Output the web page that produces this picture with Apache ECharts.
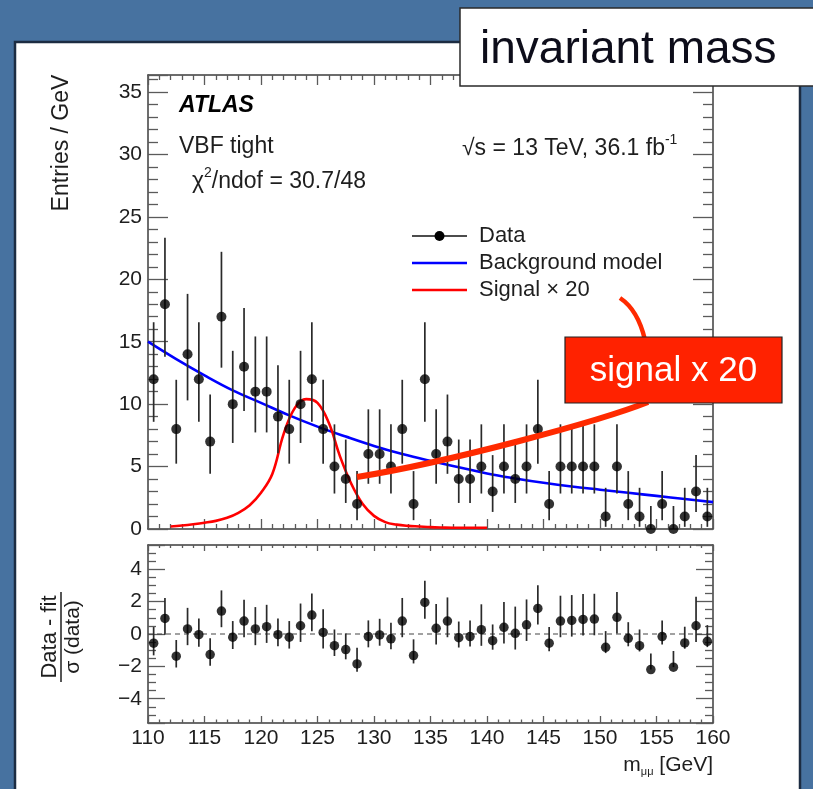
<!DOCTYPE html>
<html><head><meta charset="utf-8">
<script src="https://cdn.jsdelivr.net/npm/echarts@6/dist/echarts.min.js"></script>
<style>html,body{margin:0;padding:0;background:#4772a0;} #c{width:813px;height:789px;}</style>
</head><body><div id="c"></div>
<script>
// ---------- data ----------
const binCenters = [110.5,111.5,112.5,113.5,114.5,115.5,116.5,117.5,118.5,119.5,
  120.5,121.5,122.5,123.5,124.5,125.5,126.5,127.5,128.5,129.5,
  130.5,131.5,132.5,133.5,134.5,135.5,136.5,137.5,138.5,139.5,
  140.5,141.5,142.5,143.5,144.5,145.5,146.5,147.5,148.5,149.5,
  150.5,151.5,152.5,153.5,154.5,155.5,156.5,157.5,158.5,159.5];
const counts = [12,18,8,14,12,7,17,10,13,11,
  11,9,8,10,12,8,5,4,2,6,
  6,5,8,2,12,6,7,4,4,5,
  3,5,4,5,8,2,5,5,5,5,
  1,5,2,1,0,2,0,1,3,1];
const residuals = [-0.57,0.96,-1.37,0.31,-0.04,-1.27,1.42,-0.2,0.8,0.31,
  0.45,-0.04,-0.2,0.51,1.17,0.1,-0.72,-0.96,-1.85,-0.16,
  -0.06,-0.3,0.8,-1.33,1.95,0.35,0.8,-0.23,-0.16,0.27,
  -0.41,0.41,0.04,0.57,1.58,-0.57,0.8,0.84,0.9,0.92,
  -0.82,1.03,-0.27,-0.72,-2.2,-0.16,-2.05,-0.55,0.51,-0.45];
const bgMass = [110,112.5,115,117.5,120,122.5,125,127.5,130,132.5,135,137.5,140,142.5,145,147.5,150,152.5,155,157.5,160];
const bgValues = [15.0,13.6,12.3,11.1,10.1,9.1,8.2,7.4,6.65,6.0,5.45,4.95,4.45,4.05,3.7,3.4,3.15,2.9,2.65,2.4,2.15];
const sigMass = [112,113,114,115,116,117,118,119,120,121,122,123,124,125,126,127,128,129,130,131,132,133,134,135,136,137,138,139,140];
const sigValues = [0.2,0.28,0.38,0.5,0.65,0.9,1.3,1.9,2.9,4.4,7.6,9.7,10.4,10.1,8.5,5.8,3.6,2.0,1.05,0.55,0.35,0.25,0.2,0.15,0.12,0.1,0.1,0.1,0.1];
// 68% Poisson (Garwood) interval bounds for n = 0..18
const poissonLo = [0,0.173,0.708,1.367,2.086,2.840,3.620,4.419,5.232,6.057,6.891,7.734,8.585,9.441,10.30,11.17,12.04,12.92,13.80];
const poissonHi = [1.841,3.300,4.638,5.918,7.163,8.382,9.584,10.77,11.95,13.11,14.27,15.42,16.56,17.70,18.83,19.96,21.08,22.20,23.32];

// ---------- styling ----------
const FONT = '"Liberation Sans", Arial, Helvetica, sans-serif';
const frameColor = '#3c3c3c';
const tickColor = '#5a5a5a';
const txt = '#1e1e1e';
const minus = v => (v < 0 ? '\u2212' + Math.abs(v) : String(v));

const dataPts = binCenters.map((m, i) => [m, counts[i]]);
const dataErr = binCenters.map((m, i) => [m, poissonLo[counts[i]], poissonHi[counts[i]]]);
const resPts = binCenters.map((m, i) => [m, residuals[i]]);
const resErr = binCenters.map((m, i) => {
  const n = counts[i], lo = n - poissonLo[n], hi = poissonHi[n] - n, r = residuals[i];
  let up, dn;
  if (r < 0) { up = 1; dn = lo / hi; } else { dn = 1; up = hi / (lo || hi); }
  return [m, r - dn, r + up];
});

function xAx(grid, pos, label, maj, mnr) {
  return {
    type: 'value', gridIndex: grid, position: pos, min: 110, max: 160, interval: 5,
    axisLine: {show: true, onZero: false, lineStyle: {color: frameColor, width: 1.5}},
    axisTick: {show: true, inside: true, length: maj, lineStyle: {color: tickColor, width: 1.3}},
    minorTick: {show: true, splitNumber: 5, length: mnr, lineStyle: {color: tickColor, width: 1.3}},
    axisLabel: {show: label, margin: 5, fontSize: 21, fontFamily: FONT, color: txt},
    splitLine: {show: false}, minorSplitLine: {show: false}
  };
}
function yAx(grid, pos, label, cfg) {
  return Object.assign({
    type: 'value', gridIndex: grid, position: pos,
    axisLine: {show: true, onZero: false, lineStyle: {color: frameColor, width: 1.5}},
    splitLine: {show: false}, minorSplitLine: {show: false}
  }, cfg, {
    axisLabel: {show: label, margin: 6, fontSize: 21, fontFamily: FONT, color: txt,
      formatter: cfg.fmt}
  });
}
const mainY = {min: 0, max: 36.36, interval: 5,
  axisTick: {show: true, inside: true, length: 20, lineStyle: {color: tickColor, width: 1.3}},
  minorTick: {show: true, splitNumber: 5, length: 10, lineStyle: {color: tickColor, width: 1.3}},
  fmt: v => (Math.abs(v % 5) < 1e-6 ? String(v) : '')};
const lowY = {min: -5.5, max: 5.5, splitNumber: 5,
  axisTick: {show: true, inside: true, length: 17, lineStyle: {color: tickColor, width: 1.3}},
  minorTick: {show: true, splitNumber: 4, length: 8, lineStyle: {color: tickColor, width: 1.3}},
  fmt: v => (Math.abs(v % 2) < 1e-6 && Math.abs(v) <= 4 ? minus(v) : '')};

function errBars(color) {
  return function (params, api) {
    const p1 = api.coord([api.value(0), api.value(1)]);
    const p2 = api.coord([api.value(0), api.value(2)]);
    return {type: 'line', shape: {x1: p1[0], y1: p1[1], x2: p2[0], y2: p2[1]},
      style: {stroke: color, lineWidth: 1.7}};
  };
}

const option = {
  animation: false,
  backgroundColor: '#4772a0',
  grid: [
    {left: 148, top: 75, right: 100, height: 454},
    {left: 148, top: 545, right: 100, height: 178}
  ],
  xAxis: [xAx(0, 'bottom', false, 10, 5), xAx(0, 'top', false, 10, 5),
          xAx(1, 'bottom', true, 7, 3.5), xAx(1, 'top', false, 6, 3)],
  yAxis: [yAx(0, 'left', true, mainY), yAx(0, 'right', false, mainY),
          yAx(1, 'left', true, lowY), yAx(1, 'right', false, lowY)],
  series: [
    {type: 'line', name: 'Background model', xAxisIndex: 0, yAxisIndex: 0,
      data: bgMass.map((m, i) => [m, bgValues[i]]), smooth: 0.4, showSymbol: false,
      lineStyle: {color: '#0000ff', width: 2.6}, z: 3},
    {type: 'line', name: 'Signal x 20', xAxisIndex: 0, yAxisIndex: 0,
      data: sigMass.map((m, i) => [m, sigValues[i]]), smooth: 0.4, showSymbol: false,
      lineStyle: {color: '#ff0000', width: 2.6}, z: 3},
    {type: 'custom', name: 'Data err', xAxisIndex: 0, yAxisIndex: 0, data: dataErr,
      renderItem: errBars('#2a2a2a'), clip: false, z: 4},
    {type: 'scatter', name: 'Data', xAxisIndex: 0, yAxisIndex: 0, data: dataPts,
      symbolSize: 10, itemStyle: {color: '#000'}, z: 5},
    {type: 'line', name: 'zero', xAxisIndex: 2, yAxisIndex: 2, data: [[110, 0], [160, 0]],
      showSymbol: false, lineStyle: {color: '#444', width: 1.2, type: [5, 4]}, z: 3},
    {type: 'custom', name: 'Res err', xAxisIndex: 2, yAxisIndex: 2, data: resErr,
      renderItem: errBars('#2a2a2a'), clip: false, z: 4},
    {type: 'scatter', name: 'Residual', xAxisIndex: 2, yAxisIndex: 2, data: resPts,
      symbolSize: 9.5, itemStyle: {color: '#000'}, z: 5}
  ],
  graphic: [
    {type: 'rect', z: -10, shape: {x: 15, y: 42, width: 785, height: 770},
      style: {fill: '#ffffff', stroke: '#1c2c42', lineWidth: 2.5}},
    // y-axis titles
    {type: 'text', x: 62, y: 143, rotation: Math.PI / 2, z: 10,
      style: {text: 'Entries / GeV', font: '23px ' + FONT, fill: txt, align: 'center', verticalAlign: 'middle'}},
    {type: 'group', x: 61, y: 637, rotation: Math.PI / 2, z: 10, children: [
      {type: 'text', x: 0, y: -11, style: {text: 'Data - fit', font: '22px ' + FONT, fill: txt, align: 'center', verticalAlign: 'middle'}},
      {type: 'line', shape: {x1: -45, y1: 0, x2: 45, y2: 0}, style: {stroke: txt, lineWidth: 1.5}},
      {type: 'text', x: 0, y: 12, style: {text: '\u03c3 (data)', font: '21px ' + FONT, fill: txt, align: 'center', verticalAlign: 'middle'}}
    ]},
    // x-axis title
    {type: 'text', x: 713, y: 765, z: 10,
      style: {text: '{a|m}{s|\u03bc\u03bc}{a| [GeV]}', align: 'right', verticalAlign: 'middle',
        rich: {a: {font: '21px ' + FONT, fill: txt, lineHeight: 24, verticalAlign: 'middle'},
               s: {font: '11px ' + FONT, fill: txt, lineHeight: 24, verticalAlign: 'bottom', padding: [0, 0, 0, 0]}}}},
    // plot labels
    {type: 'text', x: 179, y: 106, z: 10,
      style: {text: 'ATLAS', font: 'italic bold 23px ' + FONT, fill: '#000', verticalAlign: 'middle'}},
    {type: 'text', x: 179, y: 147, z: 10,
      style: {text: 'VBF tight', font: '23px ' + FONT, fill: txt, verticalAlign: 'middle'}},
    {type: 'text', x: 192, y: 180, z: 10,
      style: {text: '{a|\u03c7}{s|2}{a|/ndof = 30.7/48}', verticalAlign: 'middle',
        rich: {a: {font: '23px ' + FONT, fill: txt, lineHeight: 27, verticalAlign: 'bottom'},
               s: {font: '14px ' + FONT, fill: txt, lineHeight: 27, verticalAlign: 'top'}}}},
    {type: 'text', x: 462, y: 147, z: 10,
      style: {text: '{a|\u221as = 13 TeV, 36.1 fb}{s|-1}', verticalAlign: 'middle',
        rich: {a: {font: '23px ' + FONT, fill: txt, lineHeight: 27, verticalAlign: 'bottom'},
               s: {font: '14px ' + FONT, fill: txt, lineHeight: 27, verticalAlign: 'top'}}}},
    // legend
    {type: 'line', z: 10, shape: {x1: 412, y1: 236, x2: 467, y2: 236}, style: {stroke: '#111', lineWidth: 1.5}},
    {type: 'circle', z: 10, shape: {cx: 439.5, cy: 236, r: 5}, style: {fill: '#000'}},
    {type: 'line', z: 10, shape: {x1: 412, y1: 263, x2: 467, y2: 263}, style: {stroke: '#0000ff', lineWidth: 2.6}},
    {type: 'line', z: 10, shape: {x1: 412, y1: 290, x2: 467, y2: 290}, style: {stroke: '#ff0000', lineWidth: 2.6}},
    {type: 'text', x: 479, y: 236, z: 10, style: {text: 'Data', font: '22px ' + FONT, fill: txt, verticalAlign: 'middle'}},
    {type: 'text', x: 479, y: 263, z: 10, style: {text: 'Background model', font: '22px ' + FONT, fill: txt, verticalAlign: 'middle'}},
    {type: 'text', x: 479, y: 290, z: 10, style: {text: 'Signal \u00d7 20', font: '22px ' + FONT, fill: txt, verticalAlign: 'middle'}},
    // callout
    {type: 'bezierCurve', z: 99, shape: {x1: 357, y1: 477, cpx1: 450, cpy1: 462, cpx2: 600, cpy2: 421, x2: 648, y2: 402},
      style: {stroke: '#ff2a00', lineWidth: 6, fill: null}},
    {type: 'bezierCurve', z: 99, shape: {x1: 620, y1: 298, cpx1: 638, cpy1: 310, x2: 645, y2: 340},
      style: {stroke: '#ff2a00', lineWidth: 4.5, fill: null}},
    {type: 'rect', z: 100, shape: {x: 565, y: 337, width: 217, height: 66},
      style: {fill: '#ff2200', stroke: '#222', lineWidth: 1.2}},
    {type: 'text', z: 101, x: 673.5, y: 371,
      style: {text: 'signal x 20', font: '35px ' + FONT, fill: '#ffffff', align: 'center', verticalAlign: 'middle'}},
    // title box
    {type: 'rect', z: 100, shape: {x: 460, y: 8, width: 370, height: 78},
      style: {fill: '#ffffff', stroke: '#2a2a2a', lineWidth: 1.5}},
    {type: 'text', z: 101, x: 480, y: 50,
      style: {text: 'invariant mass', font: '46px ' + FONT, fill: '#0d0d1a', verticalAlign: 'middle'}}
  ]
};
const chart = echarts.init(document.getElementById('c'));
chart.setOption(option);
</script>
</body></html>
